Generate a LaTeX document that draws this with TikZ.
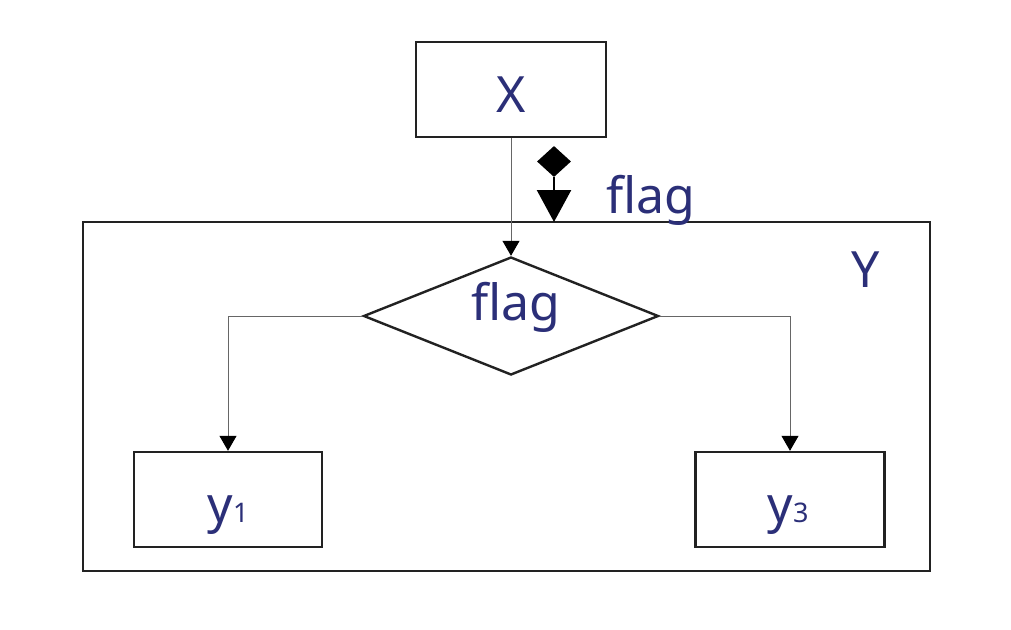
\documentclass[tikz,border=0pt]{standalone}
\usepackage{fontspec}
\setmainfont{Noto Sans}
\usetikzlibrary{shapes.geometric,arrows.meta}
\definecolor{txt}{HTML}{2B2F78}
\definecolor{boxline}{HTML}{222222}
\definecolor{connline}{HTML}{666666}
\tikzset{
  box/.style={draw=boxline, line width=2.4pt, rectangle, inner sep=0pt},
  conn/.style={draw=connline, line width=1pt, -{Triangle[width=17pt,length=15pt,fill=black,color=black]}},
  lab/.style={text=txt, inner sep=0pt, anchor=base, font=\fontsize{50}{60}\selectfont},
}
\begin{document}
\begin{tikzpicture}[x=1pt,y=-1pt]
\useasboundingbox[fill=white] (0,0) rectangle (1011,629);
% outer Y box
\node[box, minimum width=847pt, minimum height=349pt] (Y) at (506.5,396.5) {};
% X box
\node[box, minimum width=190pt, minimum height=95pt] (X) at (511,89.5) {};
% decision diamond
\node[draw=boxline, line width=2.4pt, diamond, inner sep=0pt, aspect=2.5, minimum width=295pt, minimum height=118pt] (D) at (511,316) {};
% leaf boxes
\node[box, minimum width=188pt, minimum height=95pt] (Y1) at (228,499.5) {};
\node[box, minimum width=189pt, minimum height=95pt] (Y3) at (790,499.5) {};
% texts
\node[lab] (tX) at (511,112) {X};
\node[lab] (tY) at (866,287) {Y};
\node[lab] (tD) at (516,320) {flag};
\node[lab] (tF) at (651,213) {flag};
\node[lab] (t1) at (228,522) {y\fontsize{27}{30}\selectfont 1};
\node[lab] (t3) at (788,522) {y\fontsize{27}{30}\selectfont 3};
% connectors
\draw[conn] (X.south) -- (D.north);
\draw[conn] (D.west) -| (Y1.north);
\draw[conn] (D.east) -| (Y3.north);
% data couple
\node[diamond, fill=black, inner sep=0pt, minimum width=34pt, minimum height=31pt] (FD) at (554,161.5) {};
\coordinate (FT) at (554,222);
\draw[line width=2.5pt, -{Triangle[width=34pt,length=32pt]}] (FD.south) -- (FT);
\end{tikzpicture}
\end{document}
